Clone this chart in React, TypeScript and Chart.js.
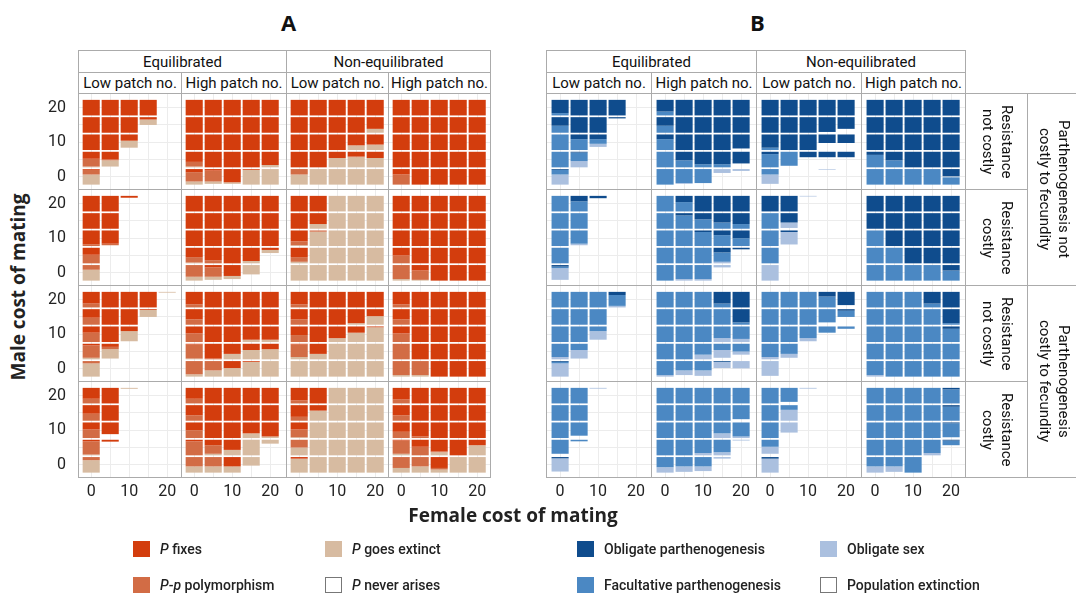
import React, { useEffect, useRef } from "react";
import { Chart, registerables } from "chart.js";
Chart.register(...registerables);

// ---------- data ----------
const FEMALE_COST = [0, 5, 10, 15, 20];
const MALE_COST_TOP_DOWN = [20, 15, 10, 5, 0];
const TICK_LABELS = [0, 10, 20];

const COLORS_A = ["#D33D0D", "#D26C45", "#D7BBA1"]; // P fixes, P-p polymorphism, P goes extinct
const COLORS_B = ["#0F4C8D", "#4B88C3", "#ABC0DF"]; // obligate parth., facultative parth., obligate sex

// cell = [top share, middle share, bottom share] in %, remainder = white
const F = [100, 0, 0];
const Q = [0, 100, 0];
const E = [0, 0, 100];
const O = [0, 0, 0];
const D = [100, 0, 0];
const M = [0, 100, 0];
const L = [0, 0, 100];

// rows: male cost 20,15,10,5,0 ; columns: female cost 0,5,10,15,20
const A_r1_eqLow = [
  [F, F, F, F, O],
  [F, F, F, [15, 0, 35], O],
  [F, F, [40, 0, 45], O, O],
  [[45, 50, 5], [50, 5, 40], O, O, O],
  [[5, 30, 65], O, O, O, O],
];
const A_r1_eqHigh = [
  [F, F, F, F, F],
  [F, F, F, F, F],
  [F, F, F, F, F],
  [[65, 30, 5], F, F, F, [85, 0, 15]],
  [[20, 60, 20], [10, 70, 15], [85, 0, 10], [5, 0, 95], E],
];
const A_r1_neLow = [
  [F, F, F, F, F],
  [F, F, F, F, [75, 0, 25]],
  [F, F, F, [70, 0, 30], [65, 0, 35]],
  [F, F, [40, 0, 60], [30, 5, 65], [40, 0, 60]],
  [[0, 35, 65], E, E, E, E],
];
const A_r1_neHigh = [
  [F, F, F, F, F],
  [F, F, F, F, F],
  [F, F, F, F, F],
  [F, F, F, F, F],
  [[35, 65, 0], F, F, F, F],
];
const A_r2_eqLow = [
  [F, F, [12, 0, 0], O, O],
  [F, F, O, O, O],
  [[90, 10, 0], [85, 10, 0], O, O, O],
  [[45, 55, 0], O, O, O, O],
  [[0, 30, 70], O, O, O, O],
];
const A_r2_eqHigh = [
  [F, F, F, F, F],
  [F, F, F, F, F],
  [F, F, F, F, F],
  [[60, 35, 5], [80, 20, 0], F, [85, 0, 15], [14, 0, 20]],
  [[0, 75, 25], [15, 60, 20], [70, 0, 20], [0, 0, 60], O],
];
const A_r2_neLow = [
  [F, F, E, E, E],
  [F, [70, 0, 30], E, E, E],
  [[70, 25, 5], [0, 8, 92], E, E, E],
  [[60, 30, 10], E, E, E, E],
  [E, E, E, E, E],
];
const A_r2_neHigh = [
  [F, F, F, F, F],
  [F, F, F, F, F],
  [F, F, F, F, F],
  [[50, 50, 0], F, F, F, F],
  [[0, 90, 10], [35, 60, 5], F, F, F],
];
const A_r3_eqLow = [
  [[75, 25, 0], F, F, F, [0, 0, 5]],
  [[55, 45, 0], F, F, [5, 0, 45], O],
  [[40, 60, 0], F, [30, 0, 65], O, O],
  [[10, 80, 10], [20, 15, 60], O, O, O],
  [[0, 15, 85], O, O, O, O],
];
const A_r3_eqHigh = [
  [[80, 20, 0], F, F, F, F],
  [[65, 35, 0], F, F, F, F],
  [[45, 55, 0], F, F, [85, 0, 15], [85, 0, 15]],
  [[5, 90, 5], [95, 5, 0], [65, 0, 35], [40, 0, 60], [35, 0, 65]],
  [[0, 85, 15], [0, 60, 40], [45, 0, 55], [5, 0, 95], E],
];
const A_r3_neLow = [
  [[80, 20, 0], F, F, F, F],
  [[65, 35, 0], F, F, [90, 0, 10], [45, 0, 55]],
  [[55, 45, 0], F, [75, 0, 25], [40, 0, 60], [5, 0, 95]],
  [[5, 80, 15], [65, 0, 35], E, E, E],
  [E, E, E, E, E],
];
const A_r3_neHigh = [
  [[80, 20, 0], F, F, F, F],
  [[65, 35, 0], F, F, F, F],
  [[45, 55, 0], F, F, F, F],
  [Q, F, F, F, F],
  [[0, 90, 10], [0, 90, 10], F, F, F],
];
const A_r4_eqLow = [
  [[70, 30, 0], F, [0, 0, 6], O, O],
  [[55, 45, 0], F, O, O, O],
  [[45, 55, 0], [75, 0, 0], O, O, O],
  [[10, 85, 5], [12, 0, 0], O, O, O],
  [[0, 20, 80], O, O, O, O],
];
const A_r4_eqHigh = [
  [[70, 30, 0], F, F, F, F],
  [[65, 35, 0], F, F, F, F],
  [[50, 50, 0], F, F, [70, 0, 30], [90, 0, 10]],
  [[10, 90, 0], [35, 55, 10], [65, 0, 35], E, [0, 0, 25]],
  [[0, 60, 40], [0, 60, 40], [60, 0, 40], [0, 0, 55], O],
];
const A_r4_neLow = [
  [[80, 20, 0], F, E, E, E],
  [[75, 25, 0], [35, 0, 65], E, E, E],
  [[45, 50, 5], E, E, E, E],
  [[0, 50, 50], E, E, E, E],
  [[10, 0, 90], E, E, E, E],
];
const A_r4_neHigh = [
  [[75, 25, 0], F, F, F, F],
  [[65, 35, 0], F, F, F, F],
  [[60, 40, 0], [90, 10, 0], F, F, F],
  [[5, 85, 10], [45, 55, 0], [75, 5, 20], F, [35, 0, 65]],
  [[0, 70, 30], [0, 60, 40], [70, 10, 20], E, E],
];

const B_r1_eqLow = [
  [[85, 15, 0], D, D, D, O],
  [[55, 45, 0], D, D, [8, 0, 0], O],
  [M, [30, 70, 0], [30, 30, 20], O, O],
  [M, [5, 55, 40], O, O, O],
  [[5, 30, 65], O, O, O, O],
];
const B_r1_eqHigh = [
  [[75, 25, 0], D, D, D, D],
  [[55, 45, 0], D, D, D, D],
  [[30, 70, 0], D, D, D, [90, 0, 0]],
  [M, [55, 45, 0], [80, 20, 0], [80, 20, 0], [75, 0, 0]],
  [M, [0, 90, 5], [0, 90, 0], [0, 0, 25], [0, 0, 12]],
];
const B_r1_neLow = [
  [D, D, D, D, D],
  [D, D, D, [95, 0, 0], [75, 0, 0]],
  [[85, 15, 0], D, D, [55, 0, 0], [55, 0, 0]],
  [[15, 85, 0], [0, 90, 0], [35, 0, 0], [35, 0, 0], [35, 0, 0]],
  [[0, 35, 60], O, O, [0, 0, 4], O],
];
const B_r1_neHigh = [
  [D, D, D, D, D],
  [D, D, D, D, D],
  [D, D, D, D, D],
  [[20, 80, 0], [55, 45, 0], D, D, D],
  [M, M, M, M, [50, 50, 0]],
];
const B_r2_eqLow = [
  [M, [35, 65, 0], [15, 0, 0], O, O],
  [M, M, O, O, O],
  [M, [0, 85, 10], O, O, O],
  [M, O, O, O, O],
  [[10, 10, 75], O, O, O, O],
];
const B_r2_eqHigh = [
  [M, [40, 60, 0], D, D, D],
  [M, [15, 85, 0], [40, 60, 0], [60, 40, 0], [70, 30, 0]],
  [M, M, [10, 90, 0], [30, 70, 0], [50, 50, 0]],
  [M, M, M, [30, 60, 10], [10, 0, 0]],
  [M, [0, 90, 10], [0, 90, 10], [0, 0, 15], O],
];
const B_r2_neLow = [
  [D, D, [0, 0, 4], O, O],
  [M, [60, 0, 35], O, O, O],
  [M, [10, 0, 80], O, O, O],
  [M, O, O, O, O],
  [L, O, O, O, O],
];
const B_r2_neHigh = [
  [D, D, D, D, D],
  [D, D, D, D, D],
  [M, D, D, D, D],
  [M, M, D, D, D],
  [M, M, M, M, [35, 65, 0]],
];
const B_r3_eqLow = [
  [M, M, M, [20, 70, 10], O],
  [M, M, M, O, O],
  [M, M, [0, 30, 55], O, O],
  [[0, 85, 15], [0, 40, 55], O, O, O],
  [[5, 10, 85], O, O, O, O],
];
const B_r3_eqHigh = [
  [M, M, M, [75, 25, 0], D],
  [M, M, M, M, [85, 15, 0]],
  [M, M, M, [0, 75, 25], [0, 80, 20]],
  [M, M, [0, 70, 30], [0, 40, 50], [0, 50, 20]],
  [[0, 90, 10], [0, 60, 30], [0, 60, 35], [5, 0, 40], [0, 0, 50]],
];
const B_r3_neLow = [
  [M, M, M, [30, 70, 0], [85, 0, 0]],
  [M, M, M, [0, 85, 0], [10, 40, 0]],
  [M, M, [0, 75, 20], [0, 40, 0], [0, 15, 0]],
  [[0, 85, 15], [0, 65, 25], O, O, O],
  [[0, 0, 95], O, O, O, O],
];
const B_r3_neHigh = [
  [M, M, M, [75, 25, 0], D],
  [M, M, M, M, [90, 10, 0]],
  [M, M, M, M, [15, 85, 0]],
  [M, M, M, M, M],
  [[0, 90, 10], M, M, M, M],
];
const B_r4_eqLow = [
  [M, M, [0, 0, 5], O, O],
  [M, M, O, O, O],
  [M, [0, 85, 0], O, O, O],
  [[0, 90, 0], [0, 10, 0], O, O, O],
  [[8, 0, 85], O, O, O, O],
];
const B_r4_eqHigh = [
  [M, M, M, M, M],
  [M, M, M, M, [0, 90, 0]],
  [M, M, M, [0, 70, 30], [0, 90, 10]],
  [M, M, [0, 85, 15], [0, 80, 20], [0, 0, 5]],
  [[0, 65, 35], [0, 60, 35], [0, 60, 30], [0, 0, 10], O],
];
const B_r4_neLow = [
  [M, [0, 90, 0], [0, 0, 5], O, O],
  [M, [0, 30, 70], O, O, O],
  [M, [0, 0, 65], O, O, O],
  [[0, 45, 45], O, O, O, O],
  [[10, 0, 90], O, O, O, O],
];
const B_r4_neHigh = [
  [M, M, M, M, [10, 90, 0]],
  [M, M, M, M, [10, 90, 0]],
  [M, M, M, M, [5, 90, 0]],
  [M, M, M, [0, 85, 15], [5, 30, 0]],
  [[0, 60, 40], [0, 60, 35], M, O, O],
];

const A_PANELS = [
  [A_r1_eqLow, A_r1_eqHigh, A_r1_neLow, A_r1_neHigh],
  [A_r2_eqLow, A_r2_eqHigh, A_r2_neLow, A_r2_neHigh],
  [A_r3_eqLow, A_r3_eqHigh, A_r3_neLow, A_r3_neHigh],
  [A_r4_eqLow, A_r4_eqHigh, A_r4_neLow, A_r4_neHigh],
];
const B_PANELS = [
  [B_r1_eqLow, B_r1_eqHigh, B_r1_neLow, B_r1_neHigh],
  [B_r2_eqLow, B_r2_eqHigh, B_r2_neLow, B_r2_neHigh],
  [B_r3_eqLow, B_r3_eqHigh, B_r3_neLow, B_r3_neHigh],
  [B_r4_eqLow, B_r4_eqHigh, B_r4_neLow, B_r4_neHigh],
];

const EQ_LABELS = ["Equilibrated", "Non-equilibrated"];
const PATCH_LABELS = ["Low patch no.", "High patch no."];
const RESIST_LABELS = [["Resistance", "not costly"], ["Resistance", "costly"], ["Resistance", "not costly"], ["Resistance", "costly"]];
const FECUND_LABELS = [["Parthenogenesis not", "costly to fecundity"], ["Parthenogenesis", "costly to fecundity"]];

// ---------- layout ----------
const FONT = "Roboto, 'Open Sans', 'DejaVu Sans', sans-serif";
const TITLE_FONT = "'Open Sans', Roboto, sans-serif";
const A_COLS = [78, 181, 286, 388, 490];
const B_COLS = [546, 651, 756, 861, 965];
const ROWS = [93, 189, 285, 381, 477];
const PX_X = 3.8;
const PX_Y = 3.46;
const GAP = 0.5;
const Y_AXIS_W = 40;
const X_AXIS_H = 30;

function buildDatasets(grid: number[][][], colors: string[]) {
  const h = 5 - GAP;
  return colors.map((color, k) => {
    const data: any[] = [];
    grid.forEach((row, r) => {
      const yc = MALE_COST_TOP_DOWN[r];
      const top = yc + 2.5 - GAP / 2;
      row.forEach((cell, c) => {
        let before = 0;
        for (let j = 0; j < k; j++) before += cell[j];
        const hi = top - (before / 100) * h;
        const lo = top - ((before + cell[k]) / 100) * h;
        data.push({ x: FEMALE_COST[c], y: cell[k] > 0 ? [lo, hi] : null });
      });
    });
    return {
      data,
      backgroundColor: color,
      borderWidth: 0,
      grouped: false,
      categoryPercentage: 1,
      barPercentage: 0.9,
      inflateAmount: 0,
    };
  });
}

function Heat(props: {
  x0: number; x1: number; y0: number; y1: number; insetL: number;
  grid: number[][][]; colors: string[]; showX: boolean; showY: boolean;
}) {
  const { x0, x1, y0, y1, insetL, grid, colors, showX, showY } = props;
  const ref = useRef<HTMLCanvasElement>(null);
  const w = x1 - x0 + (showY ? Y_AXIS_W : 0);
  const h = y1 - y0 + (showX ? X_AXIS_H : 0);
  useEffect(() => {
    const pw = x1 - x0;
    const ph = y1 - y0;
    const xmin = -2.5 - insetL / PX_X;
    const xmax = xmin + pw / PX_X;
    const ymax = 22.5 + 6 / PX_Y;
    const ymin = ymax - ph / PX_Y;
    const tickFont = { family: FONT, size: 16 };
    const chart = new Chart(ref.current as HTMLCanvasElement, {
      type: "bar",
      data: { datasets: buildDatasets(grid, colors) as any },
      options: {
        animation: false,
        responsive: false,
        maintainAspectRatio: false,
        layout: { padding: 0 },
        plugins: { legend: { display: false }, tooltip: { enabled: false } },
        scales: {
          x: {
            type: "linear",
            min: xmin,
            max: xmax,
            offset: false,
            grid: { color: "#ececec", drawTicks: false, offset: false },
            border: { display: false },
            ticks: {
              display: showX,
              stepSize: 5,
              includeBounds: false,
              autoSkip: false,
              maxRotation: 0,
              padding: 5,
              color: "#222",
              font: tickFont,
              callback: (v: any) => (TICK_LABELS.includes(Number(v)) ? String(v) : ""),
            },
            afterFit: (s: any) => {
              s.height = showX ? X_AXIS_H : 0;
              s.paddingLeft = 0;
              s.paddingRight = 0;
            },
          },
          y: {
            type: "linear",
            min: ymin,
            max: ymax,
            grid: { color: "#ececec", drawTicks: false },
            border: { display: false },
            ticks: {
              display: showY,
              stepSize: 5,
              includeBounds: false,
              autoSkip: false,
              padding: 12,
              color: "#222",
              font: tickFont,
              callback: (v: any) => (TICK_LABELS.includes(Number(v)) ? String(v) : ""),
            },
            afterFit: (s: any) => {
              s.width = showY ? Y_AXIS_W : 0;
              s.paddingTop = 0;
              s.paddingBottom = 0;
            },
          },
        },
      } as any,
    });
    return () => chart.destroy();
  }, []);
  return (
    <canvas
      ref={ref}
      width={w}
      height={h}
      style={{ position: "absolute", left: x0 - (showY ? Y_AXIS_W : 0), top: y0, width: w, height: h }}
    />
  );
}

const box = (left: number, top: number, width: number, height: number, extra: any = {}) => ({
  position: "absolute" as const,
  left,
  top,
  width: width + 1,
  height: height + 1,
  border: "1px solid #ababab",
  boxSizing: "border-box" as const,
  ...extra,
});

function Facet(props: { cols: number[]; panels: number[][][][][]; colors: string[]; showY: boolean; insetL: number }) {
  const { cols, panels, colors, showY, insetL } = props;
  const items: any[] = [];
  for (let i = 0; i < 2; i++) {
    items.push(
      <div key={"h1" + i} style={box(cols[i * 2], 50, cols[i * 2 + 2] - cols[i * 2], 22, {
        display: "flex", alignItems: "center", justifyContent: "center", fontSize: 15, color: "#111",
      })}>{EQ_LABELS[i]}</div>
    );
  }
  for (let i = 0; i < 4; i++) {
    items.push(
      <div key={"h2" + i} style={box(cols[i], 72, cols[i + 1] - cols[i], 21, {
        display: "flex", alignItems: "center", justifyContent: "center", fontSize: 15, color: "#111",
      })}>{PATCH_LABELS[i % 2]}</div>
    );
  }
  for (let r = 0; r < 4; r++) {
    for (let c = 0; c < 4; c++) {
      items.push(
        <Heat key={`p${r}${c}`} x0={cols[c]} x1={cols[c + 1]} y0={ROWS[r]} y1={ROWS[r + 1]} insetL={insetL}
          grid={panels[r][c]} colors={colors} showX={r === 3} showY={showY && c === 0} />
      );
      items.push(
        <div key={`b${r}${c}`} style={box(cols[c], ROWS[r], cols[c + 1] - cols[c], ROWS[r + 1] - ROWS[r], { pointerEvents: "none" })} />
      );
    }
  }
  return <>{items}</>;
}

function LegendItem(props: { x: number; y: number; color: string; children: any }) {
  const { x, y, color, children } = props;
  const white = color === "#FFFFFF";
  return (
    <>
      <div style={{
        position: "absolute", left: x, top: y, width: 17, height: 16, background: color,
        border: white ? "1px solid #777" : "none", boxSizing: "border-box",
      }} />
      <div style={{
        position: "absolute", left: x + 27, top: y - 2, height: 20, lineHeight: "20px",
        fontSize: 14, fontWeight: 500, color: "#222", whiteSpace: "nowrap",
      }}>{children}</div>
    </>
  );
}

export default function App() {
  const strip = (extra: any) => ({
    display: "flex", alignItems: "center", justifyContent: "center",
    fontSize: 15, color: "#111", ...extra,
  });
  const rotated = {
    writingMode: "vertical-rl" as const,
    textAlign: "center" as const,
    lineHeight: "19px",
    whiteSpace: "nowrap" as const,
  };
  return (
    <div style={{ position: "absolute", left: 0, top: 0, width: 1076, height: 601, background: "#fff", fontFamily: FONT, overflow: "hidden" }}>
      <div style={{ position: "absolute", left: 281, top: 7, fontSize: 22, fontWeight: 700, color: "#111", fontFamily: TITLE_FONT }}>A</div>
      <div style={{ position: "absolute", left: 750, top: 7, fontSize: 22, fontWeight: 700, color: "#111", fontFamily: TITLE_FONT }}>B</div>

      <Facet cols={A_COLS} panels={A_PANELS} colors={COLORS_A} showY={true} insetL={3.7} />
      <Facet cols={B_COLS} panels={B_PANELS} colors={COLORS_B} showY={false} insetL={4.6} />

      {RESIST_LABELS.map((lines, r) => (
        <div key={"rs" + r} style={box(965, ROWS[r], 62, ROWS[r + 1] - ROWS[r], strip({}))}>
          <div style={rotated}>{lines[0]}<br />{lines[1]}</div>
        </div>
      ))}
      {FECUND_LABELS.map((lines, i) => (
        <div key={"fs" + i} style={box(1027, ROWS[i * 2], 52, ROWS[i * 2 + 2] - ROWS[i * 2], strip({ borderRight: "none" }))}>
          <div style={rotated}>{lines[0]}<br />{lines[1]}</div>
        </div>
      ))}

      <div style={{
        position: "absolute", left: 18, top: 287, transform: "translate(-50%, -50%) rotate(-90deg)",
        fontSize: 19, fontWeight: 700, color: "#222", whiteSpace: "nowrap", fontFamily: TITLE_FONT,
      }}>Male cost of mating</div>
      <div style={{
        position: "absolute", left: 513, top: 515, transform: "translate(-50%, -50%)",
        fontSize: 19, fontWeight: 700, color: "#222", whiteSpace: "nowrap", fontFamily: TITLE_FONT,
      }}>Female cost of mating</div>

      <LegendItem x={133} y={541} color={COLORS_A[0]}><i>P</i> fixes</LegendItem>
      <LegendItem x={133} y={577} color={COLORS_A[1]}><i>P</i>-<i>p</i> polymorphism</LegendItem>
      <LegendItem x={325} y={541} color={COLORS_A[2]}><i>P</i> goes extinct</LegendItem>
      <LegendItem x={325} y={577} color="#FFFFFF"><i>P</i> never arises</LegendItem>
      <LegendItem x={577} y={541} color={COLORS_B[0]}>Obligate parthenogenesis</LegendItem>
      <LegendItem x={577} y={577} color={COLORS_B[1]}>Facultative parthenogenesis</LegendItem>
      <LegendItem x={820} y={541} color={COLORS_B[2]}>Obligate sex</LegendItem>
      <LegendItem x={820} y={577} color="#FFFFFF">Population extinction</LegendItem>
    </div>
  );
}
